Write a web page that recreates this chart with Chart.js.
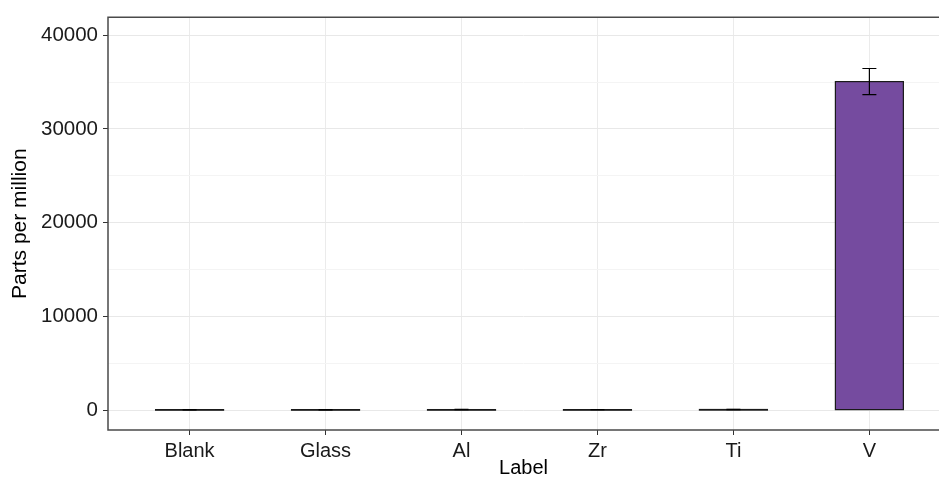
<!DOCTYPE html>
<html>
<head>
<meta charset="utf-8">
<title>Parts per million by label</title>
<script src="https://cdn.jsdelivr.net/npm/chart.js@4.4.1/dist/chart.umd.min.js"></script>
<style>
  html, body { margin: 0; padding: 0; background: #ffffff; overflow: hidden; }
  #wrap { width: 939px; height: 478px; }
</style>
</head>
<body>
<div id="wrap"><canvas id="chart" width="939" height="478"></canvas></div>
<script>
// Sample labels and measured concentrations (ppm) with standard deviations
const categories = ['Blank', 'Glass', 'Al', 'Zr', 'Ti', 'V'];
const ppm = [30, 45, 55, 50, 65, 35050];
const ppmSd = [12, 15, 18, 14, 20, 1400];
const yTickValues = [0, 10000, 20000, 30000, 40000];
const yMinorValues = [5000, 15000, 25000, 35000];

const FONT = '"Liberation Sans", Arial, Helvetica, sans-serif';
const BAR_FILL = '#754b9f';
const INK = '#1a1a1a';

// Bar outlines stroked on the element rectangles, so near-zero bars still
// show as a dark line across the bar width
const barOutlines = {
  id: 'barOutlines',
  afterDatasetsDraw(chart) {
    const { ctx } = chart;
    const meta = chart.getDatasetMeta(0);
    ctx.save();
    ctx.strokeStyle = '#1a1a1a';
    ctx.lineWidth = 1.2;
    meta.data.forEach((bar) => {
      const { x, y, base, width } = bar.getProps(['x', 'y', 'base', 'width'], true);
      const top = Math.min(y, base);
      const h = Math.max(Math.abs(base - y), 0.6);
      ctx.strokeRect(x - width / 2, top, width, h);
    });
    ctx.restore();
  }
};

// Error bars with caps, positioned through the chart scales
const errorBars = {
  id: 'errorBars',
  afterDatasetsDraw(chart) {
    const { ctx, scales: { x, y } } = chart;
    const capHalf = 7;
    ctx.save();
    ctx.strokeStyle = '#000';
    ctx.lineWidth = 1.2;
    ppm.forEach((v, i) => {
      const px = x.getPixelForValue(i);
      const top = y.getPixelForValue(v + ppmSd[i]);
      const bot = y.getPixelForValue(v - ppmSd[i]);
      ctx.beginPath();
      ctx.moveTo(px, top); ctx.lineTo(px, bot);
      ctx.moveTo(px - capHalf, top); ctx.lineTo(px + capHalf, top);
      ctx.moveTo(px - capHalf, bot); ctx.lineTo(px + capHalf, bot);
      ctx.stroke();
    });
    ctx.restore();
  }
};

// Panel border: top, left and bottom edges of the plotting area
const panelBorder = {
  id: 'panelBorder',
  afterDatasetsDraw(chart) {
    const { ctx, chartArea: a } = chart;
    ctx.save();
    ctx.strokeStyle = '#4a4a4a';
    ctx.lineWidth = 1.5;
    ctx.beginPath();
    ctx.moveTo(a.right + 2, a.top); ctx.lineTo(a.left, a.top);
    ctx.lineTo(a.left, a.bottom); ctx.lineTo(a.right + 2, a.bottom);
    ctx.stroke();
    ctx.restore();
  }
};

new Chart(document.getElementById('chart'), {
  type: 'bar',
  data: {
    datasets: [{
      data: categories.map((c, i) => ({ x: i, y: ppm[i] })),
      backgroundColor: BAR_FILL,
      borderWidth: 0,
      barPercentage: 0.5,
      categoryPercentage: 1.0
    }]
  },
  options: {
    responsive: false,
    animation: false,
    layout: { padding: { top: 15, right: 0, bottom: 0, left: 0 } },
    plugins: {
      legend: { display: false },
      tooltip: { enabled: false }
    },
    scales: {
      x: {
        type: 'linear',
        offset: false,
        min: -0.6,
        max: 5.512,
        border: { display: false },
        afterBuildTicks(scale) {
          scale.ticks = categories.map((c, i) => ({ value: i }));
        },
        afterFit(scale) { scale.height = 48; },
        grid: {
          offset: false,
          color: '#ebebeb',
          lineWidth: 1,
          tickLength: 5,
          tickColor: '#333',
          drawTicks: true
        },
        ticks: {
          autoSkip: false,
          maxRotation: 0,
          padding: 4,
          color: INK,
          font: { family: FONT, size: 20 },
          callback: (v) => categories[v] ?? ''
        },
        title: {
          display: true,
          text: 'Label',
          color: '#000',
          font: { family: FONT, size: 20, lineHeight: 1 },
          padding: { top: 0, bottom: 0 }
        }
      },
      y: {
        type: 'linear',
        min: -2122,
        max: 41910,
        border: { display: false },
        afterBuildTicks(scale) {
          scale.ticks = yTickValues.concat(yMinorValues)
            .sort((a, b) => a - b)
            .map(v => ({ value: v }));
        },
        afterFit(scale) { scale.width = 108; },
        grid: {
          color: (c) => (c.tick && yTickValues.includes(c.tick.value)) ? '#e8e8e8' : '#f4f4f4',
          lineWidth: 1,
          tickLength: 5,
          tickColor: (c) => (c.tick && yTickValues.includes(c.tick.value)) ? '#333' : 'rgba(0,0,0,0)'
        },
        ticks: {
          autoSkip: false,
          padding: 5,
          color: INK,
          font: { family: FONT, size: 20.5 },
          callback: (v) => yTickValues.includes(v) ? String(v) : ''
        },
        title: {
          display: true,
          text: 'Parts per million',
          color: '#000',
          font: { family: FONT, size: 21, lineHeight: 1 },
          padding: { top: 10, bottom: 0 }
        }
      }
    }
  },
  plugins: [barOutlines, errorBars, panelBorder]
});
</script>
</body>
</html>
